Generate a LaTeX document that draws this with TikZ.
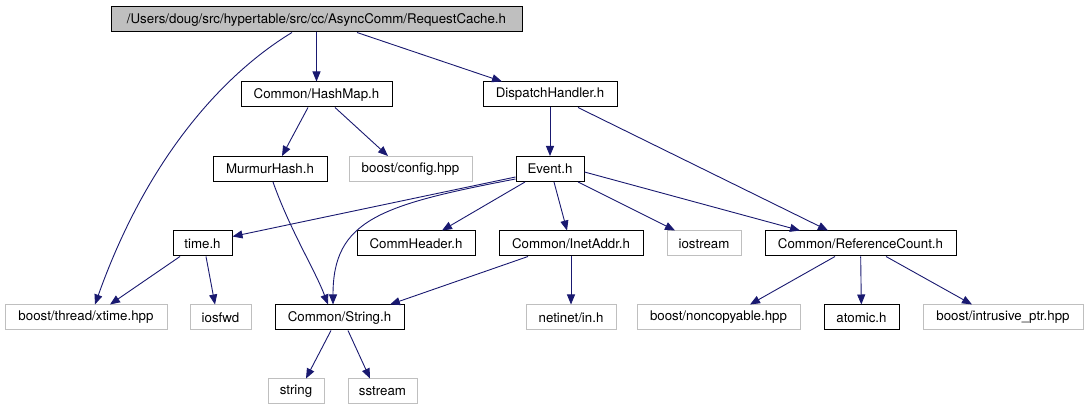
\documentclass[tikz,border=0pt]{standalone}
\usepackage{fontspec}
\setmainfont{TeX Gyre Heros}
\usepackage{xcolor}
\usepackage{tikz}
\usetikzlibrary{arrows.meta}
\definecolor{edgeblue}{RGB}{25,25,112}
\definecolor{sysgrey}{RGB}{191,191,191}
\definecolor{rootgrey}{RGB}{191,191,191}
\tikzset{
  header/.style={draw=black,line width=1pt,fill=white,minimum height=25pt,
    inner sep=0pt,font=\fontsize{13.3}{16}\selectfont},
  external/.style={header,draw=sysgrey},
  current/.style={header,fill=rootgrey},
  dep/.style={-{Triangle[length=10pt,width=8pt]},line width=0.9pt,draw=edgeblue}
}

\begin{document}
\begin{tikzpicture}[x=1pt,y=-1pt]
  \useasboundingbox (0,0) rectangle (1088,411);
  % rows of the include graph
  \node[current,minimum width=411pt] (root) at (316.5,19.5) {/Users/doug/src/hypertable/src/cc/AsyncComm/RequestCache.h};
  \node[header,minimum width=151pt] (hashmap) at (316.5,94.5) {Common/HashMap.h};
  \node[header,minimum width=134pt] (dispatch) at (550,94.5) {DispatchHandler.h};
  \node[header,minimum width=114pt] (murmur) at (270,169) {MurmurHash.h};
  \node[external,minimum width=123pt] (config) at (410.5,169) {boost/config.hpp};
  \node[header,minimum width=68pt] (event) at (550,169) {Event.h};
  \node[header,minimum width=59pt] (timeh) at (202.5,243.5) {time.h};
  \node[header,minimum width=118pt] (commheader) at (416,243.5) {CommHeader.h};
  \node[header,minimum width=144pt] (inetaddr) at (571,243.5) {Common/InetAddr.h};
  \node[external,minimum width=74pt] (iostream) at (704,243.5) {iostream};
  \node[header,minimum width=191pt] (refcount) at (860.5,243.5) {Common/ReferenceCount.h};
  \node[external,minimum width=162pt] (xtime) at (86,317.5) {boost/thread/xtime.hpp};
  \node[external,minimum width=61pt] (iosfwd) at (220.5,317.5) {iosfwd};
  \node[header,minimum width=129pt] (stringh) at (339.5,317.5) {Common/String.h};
  \node[external,minimum width=90pt] (netinet) at (571,317.5) {netinet/in.h};
  \node[external,minimum width=163pt] (noncopyable) at (718.5,317.5) {boost/noncopyable.hpp};
  \node[header,minimum width=75pt] (atomic) at (861.5,317.5) {atomic.h};
  \node[external,minimum width=160pt] (intrusive) at (1003,317.5) {boost/intrusive\_ptr.hpp};
  \node[external,minimum width=56pt] (string) at (296,391.5) {string};
  \node[external,minimum width=69pt] (sstream) at (382.5,391.5) {sstream};

  % includes
  \draw[dep] (root) -- (hashmap);
  \draw[dep] ([xshift=40.5]root.south) -- ([xshift=-48]dispatch.north);
  \draw[dep] ([xshift=-24.5]root.south) .. controls (230,70) and (150,150) .. ([xshift=9]xtime.north);
  \draw[dep] ([xshift=-8.5]hashmap.south) -- ([xshift=12]murmur.north);
  \draw[dep] ([xshift=18.5]hashmap.south) -- ([xshift=-22.5]config.north);
  \draw[dep] (dispatch) -- (event);
  \draw[dep] ([xshift=28]dispatch.south) -- ([xshift=-32.5]refcount.north);
  \draw[dep] ([xshift=3]murmur.south) .. controls (290,230) and (315,270) .. ([xshift=-11.5]stringh.north);
  \draw[dep] ([yshift=-8]event.west) -- ([yshift=7]timeh.east);
  \draw[dep] ([yshift=-10]event.west) .. controls (380,205) and (333,220) .. ([xshift=-6.5]stringh.north);
  \draw[dep] ([xshift=-25]event.south) -- ([xshift=26]commheader.north);
  \draw[dep] ([xshift=4]event.south) -- ([xshift=-4]inetaddr.north);
  \draw[dep] ([xshift=28]event.south) -- ([xshift=-29]iostream.north);
  \draw[dep] ([yshift=-3]event.east) -- ([xshift=-60.5]refcount.north);
  \draw[dep] ([xshift=-22.5]timeh.south) -- ([xshift=24]xtime.north);
  \draw[dep] ([xshift=3.5]timeh.south) -- ([xshift=-5.5]iosfwd.north);
  \draw[dep] ([xshift=-43]inetaddr.south) -- ([xshift=50.5]stringh.north);
  \draw[dep] (inetaddr) -- (netinet);
  \draw[dep] ([xshift=-25.5]refcount.south) -- ([xshift=31.5]noncopyable.north);
  \draw[dep] (refcount) -- (atomic);
  \draw[dep] ([xshift=25.5]refcount.south) -- ([xshift=-31]intrusive.north);
  \draw[dep] ([xshift=-8.5]stringh.south) -- ([xshift=10]string.north);
  \draw[dep] ([xshift=8.5]stringh.south) -- ([xshift=-12.5]sstream.north);
\end{tikzpicture}
\end{document}
